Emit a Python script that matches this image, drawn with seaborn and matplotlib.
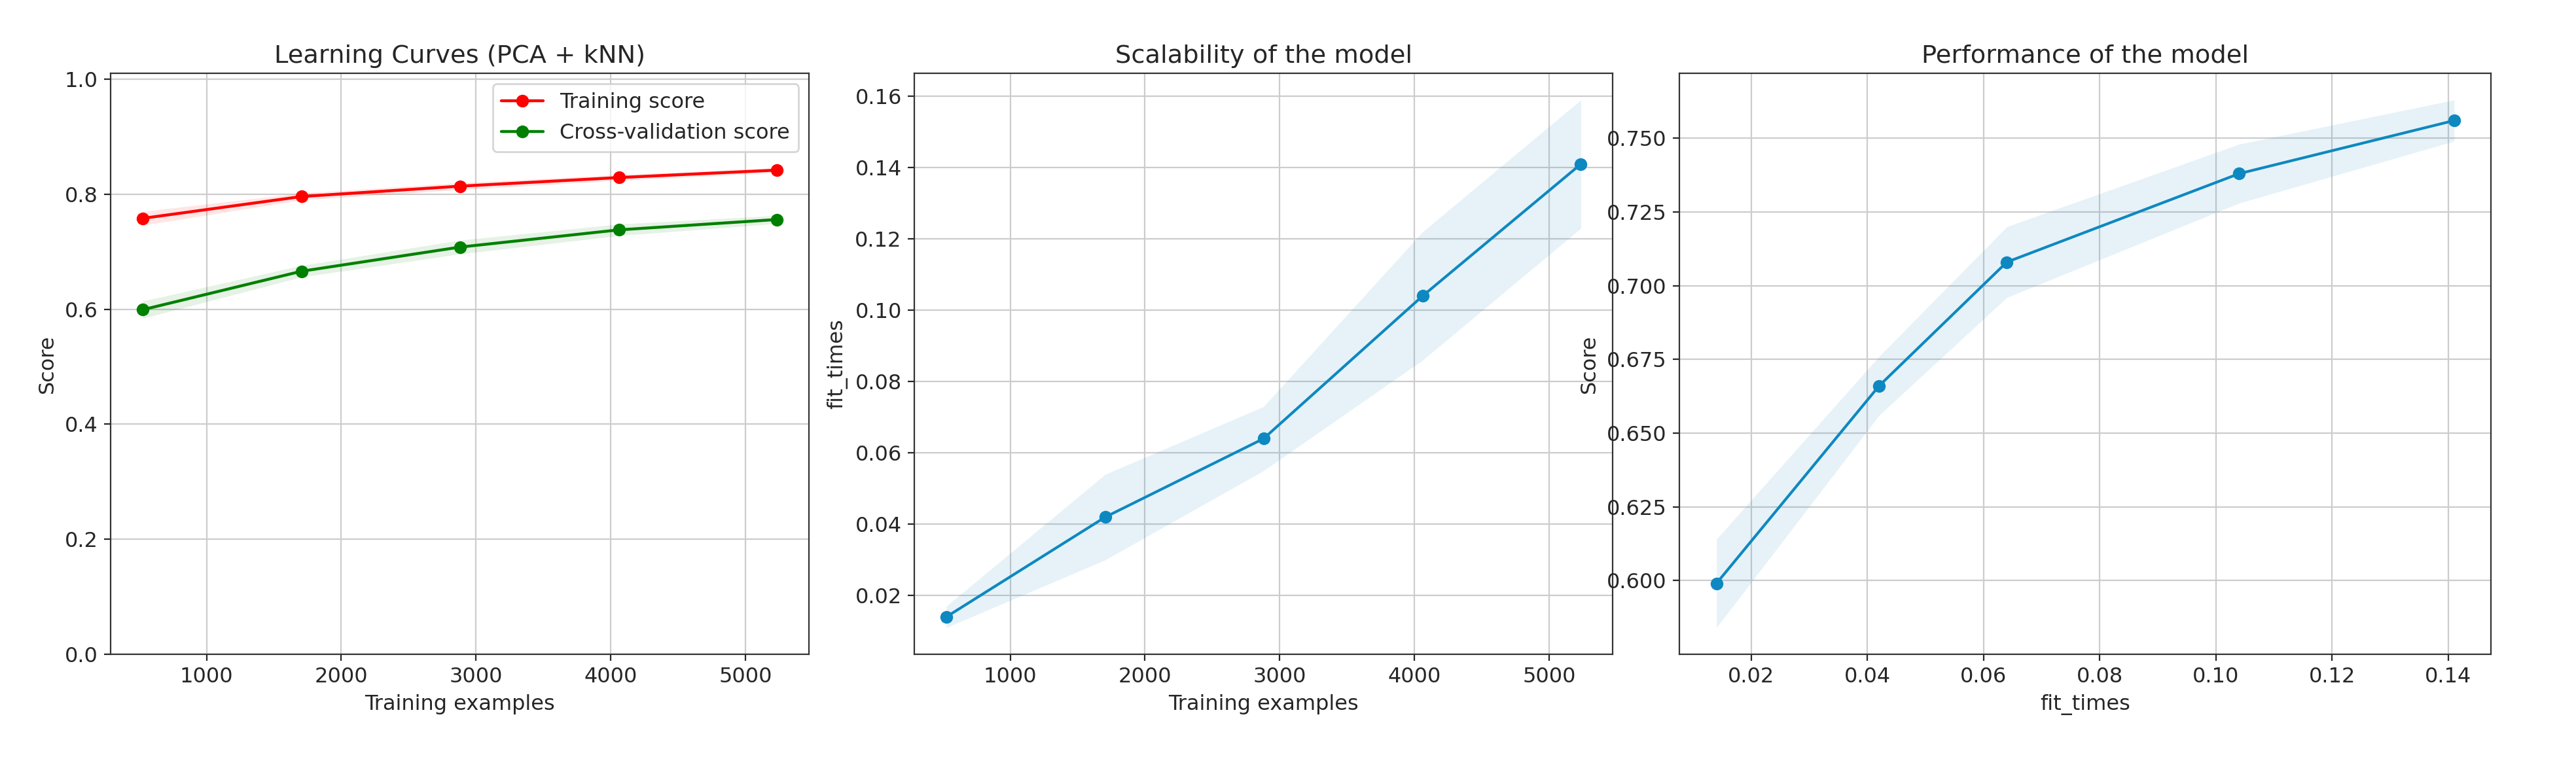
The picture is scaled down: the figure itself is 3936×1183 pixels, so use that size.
import numpy as np
import pandas as pd
import seaborn as sns
import matplotlib.pyplot as plt

train_sizes = [525, 1705, 2880, 4060, 5235]
train_mean = [0.758, 0.796, 0.814, 0.829, 0.842]
train_std = [0.012, 0.006, 0.006, 0.005, 0.004]
cv_mean = [0.599, 0.666, 0.708, 0.738, 0.756]
cv_std = [0.015, 0.010, 0.012, 0.010, 0.007]
fit_mean = [0.014, 0.042, 0.064, 0.104, 0.141]
fit_std = [0.003, 0.012, 0.009, 0.018, 0.018]

sns.set_style("ticks")
plt.rcParams['font.family'] = ['DejaVu Sans']
plt.rcParams['font.size'] = 11.5

df = pd.DataFrame({'n': train_sizes, 'train': train_mean, 'cv': cv_mean, 'fit': fit_mean})
blue = '#0e88c0'

fig = plt.figure(figsize=(19.68, 5.915), dpi=200)
ax1 = fig.add_axes([0.043, 0.155, 0.271, 0.75])
ax2 = fig.add_axes([0.355, 0.155, 0.271, 0.75])
ax3 = fig.add_axes([0.652, 0.155, 0.315, 0.75])

tm, ts = np.array(train_mean), np.array(train_std)
cm, cs = np.array(cv_mean), np.array(cv_std)
fm, fs = np.array(fit_mean), np.array(fit_std)

ax1.fill_between(train_sizes, tm - ts, tm + ts, color='r', alpha=0.1, lw=0)
ax1.fill_between(train_sizes, cm - cs, cm + cs, color='g', alpha=0.1, lw=0)
sns.lineplot(data=df, x='n', y='train', ax=ax1, color='r', marker='o', markersize=7,
             markeredgewidth=0, lw=1.6, label='Training score')
sns.lineplot(data=df, x='n', y='cv', ax=ax1, color='g', marker='o', markersize=7,
             markeredgewidth=0, lw=1.6, label='Cross-validation score')
ax1.set_ylim(0, 1.01)
ax1.set_title("Learning Curves (PCA + kNN)")
ax1.set_xlabel("Training examples")
ax1.set_ylabel("Score")
ax1.legend(loc='upper right')

ax2.fill_between(train_sizes, fm - fs, fm + fs, color=blue, alpha=0.1, lw=0)
sns.lineplot(data=df, x='n', y='fit', ax=ax2, color=blue, marker='o', markersize=7,
             markeredgewidth=0, lw=1.5)
ax2.set_title("Scalability of the model")
ax2.set_xlabel("Training examples")
ax2.set_ylabel("fit_times")

ax3.fill_between(fit_mean, cm - cs, cm + cs, color=blue, alpha=0.1, lw=0)
sns.lineplot(data=df, x='fit', y='cv', ax=ax3, color=blue, marker='o', markersize=7,
             markeredgewidth=0, lw=1.5)
ax3.set_title("Performance of the model")
ax3.set_xlabel("fit_times")
ax3.set_ylabel("Score")

for ax in (ax1, ax2, ax3):
    ax.grid(True, color='#cccccc')
    for s in ax.spines.values():
        s.set_color('#333333')

fig.savefig('out.png', dpi=200)
